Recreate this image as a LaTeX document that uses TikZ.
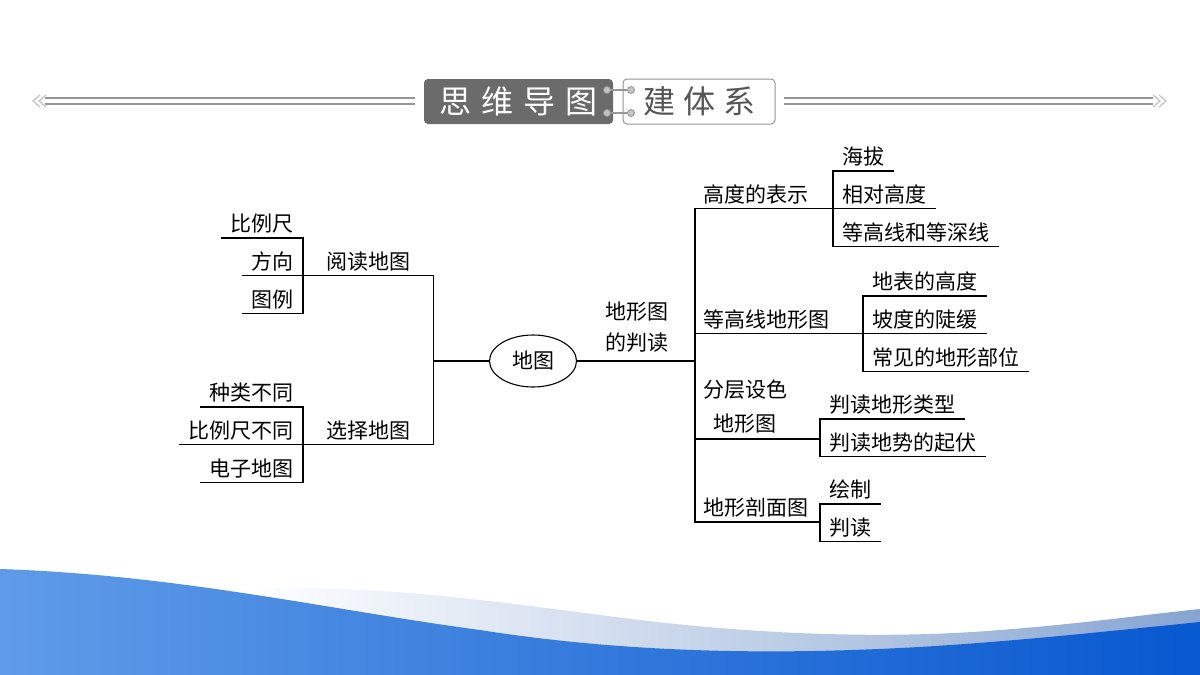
\documentclass[tikz,border=0pt]{standalone}
\usepackage{fontspec}
\newfontfamily\cjk{Noto Sans CJK SC}
\usetikzlibrary{positioning, shapes.geometric}
\usepackage{xcolor}
\definecolor{meucinza}{RGB}{150,150,150}
\definecolor{meucinzaclaro}{RGB}{195,195,195}
\definecolor{meucinzaescuro}{RGB}{107,107,107}
\definecolor{meucinzatexto}{RGB}{85,85,85}
\definecolor{meuazulclaro}{RGB}{95,155,232}
\definecolor{meuazulescuro}{RGB}{8,88,208}
\definecolor{meuazulfaixa}{RGB}{135,165,210}

\begin{document}
\begin{tikzpicture}[
    x=1pt, y=-1pt,
    every node/.style={font=\cjk\fontsize{21}{26}\selectfont, inner ysep=0pt},
    folha/.style={inner xsep=9pt, text height=31pt, text depth=6.5pt},
    ramo/.style={folha, inner xsep=8pt},
    duas/.style={align=center, inner sep=0pt},
    linha/.style={line width=1.1pt, line cap=rect},
    caixaescura/.style={fill=meucinzaescuro, rounded corners=4pt, text=white,
        minimum width=189pt, minimum height=45pt, inner sep=0pt,
        font=\cjk\fontsize{32}{32}\selectfont},
    caixaclara/.style={draw=meucinza, line width=1pt, fill=white, rounded corners=4pt,
        text=meucinzatexto, minimum width=152pt, minimum height=45pt, inner sep=0pt,
        font=\cjk\fontsize{32}{32}\selectfont},
    ponto/.style={circle, fill=meucinzaclaro, draw=meucinza, line width=0.8pt,
        inner sep=0pt, minimum size=7pt},
    elo/.style={meucinza, line width=1.8pt},
    trilho/.style={meucinza, line width=1.5pt},
    seta/.style={meucinzaclaro, line width=1.2pt}
]
    \useasboundingbox (0,0) rectangle (1200,675);
    \fill[white] (0,0) rectangle (1200,675);

    % onda azul no rodape
    \shade[left color=white, right color=meuazulfaixa]
        (250,588) .. controls (380,586) and (470,598) .. (600,615)
        .. controls (740,634) and (880,640) .. (1000,630)
        .. controls (1080,624) and (1150,614) .. (1200,609)
        -- (1200,675) -- (250,675) -- cycle;
    \shade[left color=meuazulclaro, right color=meuazulescuro]
        (0,569) .. controls (180,575) and (330,610) .. (480,630)
        .. controls (620,652) and (760,655) .. (900,648)
        .. controls (1000,643) and (1100,632) .. (1200,622)
        -- (1200,675) -- (0,675) -- cycle;

    % cabecalho
    \draw[trilho] (45,98) -- (415,98);
    \draw[trilho] (45,104) -- (415,104);
    \draw[seta] (40,95) -- (33,101) -- (40,107);
    \draw[seta] (46,95) -- (39,101) -- (46,107);
    \draw[trilho] (784,98) -- (1153,98);
    \draw[trilho] (784,104) -- (1153,104);
    \draw[seta] (1153,95) -- (1160,101) -- (1153,107);
    \draw[seta] (1159,95) -- (1166,101) -- (1159,107);

    \node[caixaescura] (swdt) at (518.5,101.5) {思\hspace{10pt}维\hspace{10pt}导\hspace{10pt}图};
    \node[caixaclara]  (jtx)  at (699,101.5) {建\hspace{8pt}体\hspace{8pt}系};
    \node[ponto] (p1) at (607,90)  {};
    \node[ponto] (p2) at (607,113) {};
    \node[ponto] (p3) at (631,90)  {};
    \node[ponto] (p4) at (631,113) {};
    \draw[elo] (p1) -- (p3);
    \draw[elo] (p2) -- (p4);

    % centro
    \node[ellipse, draw, line width=1.1pt, minimum width=87pt, minimum height=52pt,
          inner sep=0pt] (ditu) at (533,361) {地图};

    % lado esquerdo
    \node[folha, anchor=south east] (blc) at (303,238) {比例尺};
    \node[folha, below=0pt of blc.south east, anchor=north east] (fx) {方向};
    \node[folha, below=0pt of fx.south east, anchor=north east]  (tl) {图例};
    \node[folha, anchor=south east] (zlbt) at (303,407) {种类不同};
    \node[folha, below=0pt of zlbt.south east, anchor=north east]  (blcbt) {比例尺不同};
    \node[folha, below=0pt of blcbt.south east, anchor=north east] (dzdt)  {电子地图};
    \node[folha, anchor=south west, minimum width=130pt] (ydt)  at (fx.south east)    {阅读地图};
    \node[folha, anchor=south west, minimum width=130pt] (xzdt) at (blcbt.south east) {选择地图};

    \foreach \n in {blc, fx, tl, zlbt, blcbt, dzdt}
        \draw[linha] (\n.south west) -- (\n.south east);
    \draw[linha] (blc.south east) -- (tl.south east);
    \draw[linha] (zlbt.south east) -- (dzdt.south east);
    \draw[linha] (ydt.south west) -- (ydt.south east);
    \draw[linha] (xzdt.south west) -- (xzdt.south east);
    \draw[linha] (ydt.south east) -- (xzdt.south east);
    \draw[linha] (ditu.west) -- (ditu.west -| ydt.south east);

    % lado direito
    \node[folha, anchor=south west] (hb) at (833,171) {海拔};
    \node[folha, below=0pt of hb.south west, anchor=north west]   (xdgd) {相对高度};
    \node[folha, below=0pt of xdgd.south west, anchor=north west] (dgx)  {等高线和等深线};
    \node[folha, anchor=south west] (dbgd) at (863,296) {地表的高度};
    \node[folha, below=0pt of dbgd.south west, anchor=north west] (pdd)  {坡度的陡缓};
    \node[folha, below=0pt of pdd.south west, anchor=north west]  (cjbw) {常见的地形部位};
    \node[folha, anchor=south west] (pdlx) at (820,419) {判读地形类型};
    \node[folha, below=0pt of pdlx.south west, anchor=north west] (pdqf) {判读地势的起伏};
    \node[folha, anchor=south west] (hz) at (820,504) {绘制};
    \node[folha, below=0pt of hz.south west, anchor=north west]   (pd)   {判读};

    \node[ramo, anchor=south west] (gdbs) at (695,0 |- xdgd.south) {高度的表示};
    \node[ramo, anchor=south west] (dgxt) at (695,0 |- pdd.south)  {等高线地形图};
    \node[duas, anchor=south west, inner xsep=8pt, inner ysep=6pt,
          font=\cjk\fontsize{21}{34}\selectfont] (fcsc) at (695,439) {分层设色\\地形图};
    \node[ramo, anchor=south west] (pmt) at (695,522) {地形剖面图};
    \node[duas, font=\cjk\fontsize{21}{31}\selectfont] (dxtpd) at (637,327) {地形图\\的判读};

    \foreach \n in {hb, xdgd, dgx, dbgd, pdd, cjbw, pdlx, pdqf, hz, pd}
        \draw[linha] (\n.south west) -- (\n.south east);
    \draw[linha] (hb.south west) -- (dgx.south west);
    \draw[linha] (dbgd.south west) -- (cjbw.south west);
    \draw[linha] (pdlx.south west) -- (pdqf.south west);
    \draw[linha] (hz.south west) -- (pd.south west);
    \draw[linha] (gdbs.south west) -- (xdgd.south west);
    \draw[linha] (dgxt.south west) -- (pdd.south west);
    \draw[linha] (fcsc.south west) -- (fcsc.south west -| pdlx.south west);
    \draw[linha] (pmt.south west) -- (pmt.south west -| hz.south west);
    \draw[linha] (gdbs.south west) -- (pmt.south west);
    \draw[linha] (ditu.east) -- (ditu.east -| gdbs.south west);
\end{tikzpicture}
\end{document}
